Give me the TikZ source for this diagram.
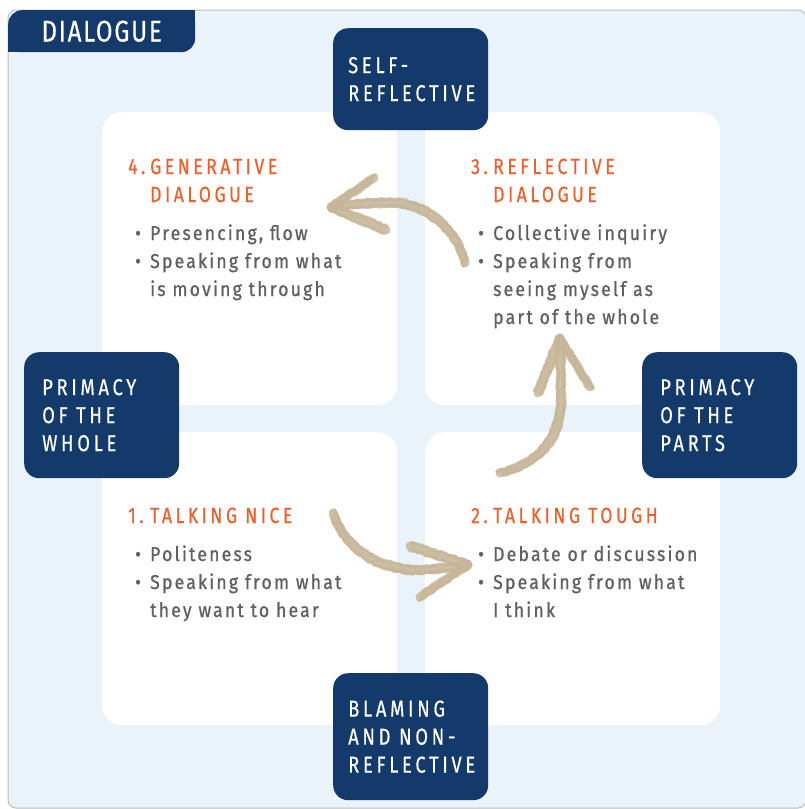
\documentclass[tikz,border=0pt]{standalone}
\usepackage{fontspec}
\setmainfont{Fira Sans}
\newfontfamily\titlefont[FakeStretch=0.8,LetterSpace=6,FakeBold=0.5]{Fira Sans}
\newfontfamily\headfont[FakeStretch=0.8,LetterSpace=16,FakeBold=0.6]{Fira Sans}
\newfontfamily\tagfont[FakeStretch=0.8,LetterSpace=16,FakeBold=0.4]{Fira Sans}
\newfontfamily\bodyfont[FakeStretch=0.88,LetterSpace=11,FakeBold=0.9]{Fira Sans}
\usepackage{xcolor}
\usepackage{tikz}
\usetikzlibrary{positioning,decorations.pathmorphing}

\definecolor{dialnavy}{HTML}{133A6A}
\definecolor{panelblue}{HTML}{EAF2FA}
\definecolor{panelgray}{HTML}{B9BCC0}
\definecolor{dialorange}{HTML}{E9622E}
\definecolor{dialgray}{HTML}{5F6062}
\definecolor{chalkbeige}{HTML}{C6B597}

\newcommand{\bul}{\makebox[15pt][l]{\textbullet}}
\newcommand{\ind}{\hspace*{15pt}}
\newcommand{\qnum}[1]{\makebox[22pt][l]{#1}}
\newcommand{\qind}{\hspace*{22pt}}

\begin{document}
\begin{tikzpicture}[x=1pt,y=-1pt,
    panel/.style={draw=panelgray, line width=1pt, fill=panelblue, rounded corners=8pt},
    quad/.style={fill=white, rounded corners=20pt, minimum width=295, minimum height=293, anchor=north west, inner sep=0},
    tag/.style={fill=dialnavy, rounded corners=15pt, minimum width=155, anchor=north west, inner sep=0},
    tagtxt/.style={text=white, font=\tagfont\fontsize{23}{28}\selectfont, align=left, anchor=west, inner sep=0},
    headtxt/.style={text=dialorange, font=\headfont\fontsize{22}{28}\selectfont, align=left, anchor=base west, inner sep=0},
    bodytxt/.style={text=dialgray, font=\bodyfont\fontsize{20}{28}\selectfont, align=left, anchor=base west, inner sep=0},
    chalk/.style={draw=chalkbeige, line cap=round, line join=round, decorate,
        decoration={random steps, segment length=3pt, amplitude=0.8pt}}
]
\useasboundingbox (0,0) rectangle (804,809);

% Background panel
\draw[panel] (8,10) rectangle (806,808);

% Title tab
\node[fill=dialnavy, rounded corners=14pt, minimum width=187, minimum height=42, anchor=north west, inner sep=0,
    text=white, font=\titlefont\fontsize{30}{30}\selectfont] (tab) at (8,10) {DIALOGUE};
\fill[dialnavy] (tab.north east) rectangle ++(-20,20);
\fill[dialnavy] (tab.south west) rectangle ++(20,-20);

% Four quadrants
\node[quad] (gen) at (102,112) {};
\node[quad] (refl) at (425,112) {};
\node[quad] (nice) at (102,432) {};
\node[quad] (tough) at (425,432) {};

% Chalk arrows between the quadrants
\coordinate (nicetail) at (333,513);
\coordinate (nicetip) at (468,565);
\coordinate (toughtail) at (500,473);
\coordinate (toughtip) at (560,338);
\coordinate (refltail) at (465,263);
\coordinate (refltip) at (331,207);

\foreach \dx/\dy/\w/\op in {0/0/9/0.8, 1.5/-3.5/3/0.8, -1.5/3.5/3/0.8, 0/1/2/0.5, 0/-1.5/1.5/0.5} {
    \draw[chalk, line width=\w pt, opacity=\op, transform canvas={shift={(\dx,\dy)}}]
        (nicetail) .. controls (345,550) and (380,570) .. (420,570) .. controls (440,569) and (455,567) .. (nicetip);
    \draw[chalk, line width=\w pt, opacity=\op, transform canvas={shift={(\dx,\dy)}}]
        (nicetip) -- (410,546) (nicetip) -- (420,597);
}
\foreach \dx/\dy/\w/\op in {0/0/9/0.8, -3.5/-1.5/3/0.8, 3.5/1.5/3/0.8, 1/0/2/0.5, -1.5/0/1.5/0.5} {
    \draw[chalk, line width=\w pt, opacity=\op, transform canvas={shift={(\dx,\dy)}}]
        (toughtail) .. controls (545,462) and (562,432) .. (561,395) .. controls (561,370) and (560,350) .. (toughtip);
    \draw[chalk, line width=\w pt, opacity=\op, transform canvas={shift={(\dx,\dy)}}]
        (toughtip) -- (538,393) (toughtip) -- (590,387);
}
\foreach \dx/\dy/\w/\op in {0/0/9/0.8, 1.5/-3.5/3/0.8, -1.5/3.5/3/0.8, 0/1/2/0.5, 0/-1.5/1.5/0.5} {
    \draw[chalk, line width=\w pt, opacity=\op, transform canvas={shift={(\dx,\dy)}}]
        (refltail) .. controls (457,228) and (425,204) .. (395,203) .. controls (370,202) and (350,205) .. (refltip);
    \draw[chalk, line width=\w pt, opacity=\op, transform canvas={shift={(\dx,\dy)}}]
        (refltip) -- (374,178) (refltip) -- (386,230);
}

% Axis tags
\node[tag, minimum height=102] (selfbox) at (333,28) {};
\node[tag, minimum height=126] (wholebox) at (24,352) {};
\node[tag, minimum height=126] (partsbox) at (642,352) {};
\node[tag, minimum height=127] (blamebox) at (333,673) {};

\node[tagtxt] (selftxt) at ([xshift=15pt]selfbox.west) {SELF-\\REFLECTIVE};
\node[tagtxt] (wholetxt) at ([xshift=18pt]wholebox.west) {PRIMACY\\OF THE\\WHOLE};
\node[tagtxt] (partstxt) at ([xshift=18pt]partsbox.west) {PRIMACY\\OF THE\\PARTS};
\node[tagtxt] (blametxt) at ([xshift=15pt]blamebox.west) {BLAMING\\AND NON-\\REFLECTIVE};

% Quadrant texts (base = last line)
\node[headtxt] (genhead) at (128,202) {\qnum{4.}GENERATIVE\\\qind DIALOGUE};
\node[bodytxt] (genlist) at (135,296) {\bul Presencing, flow\\\bul Speaking from what\\\ind is moving through};

\node[headtxt] (reflhead) at (471,202) {\qnum{3.}REFLECTIVE\\\qind DIALOGUE};
\node[bodytxt] (refllist) at (478,324) {\bul Collective inquiry\\\bul Speaking from\\\ind seeing myself as\\\ind part of the whole};

\node[headtxt] (nicehead) at (128,523) {\qnum{1.}TALKING NICE};
\node[bodytxt] (nicelist) at (135,617) {\bul Politeness\\\bul Speaking from what\\\ind they want to hear};

\node[headtxt] (toughhead) at (471,523) {\qnum{2.}TALKING TOUGH};
\node[bodytxt] (toughlist) at (478,617) {\bul Debate or discussion\\\bul Speaking from what\\\ind I think};

\end{tikzpicture}
\end{document}
